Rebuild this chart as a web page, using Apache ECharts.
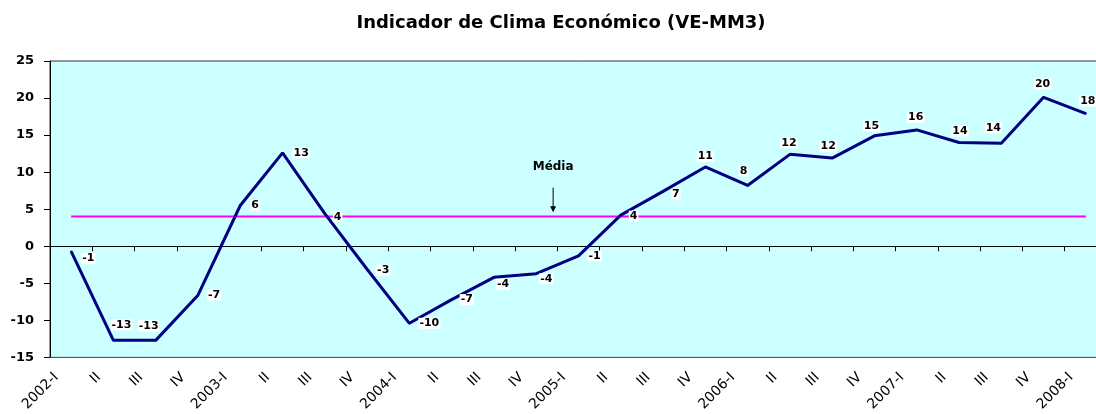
<!DOCTYPE html>
<html>
<head>
<meta charset="utf-8">
<script src="https://cdn.jsdelivr.net/npm/echarts@6/dist/echarts.min.js"></script>
<style>
  html, body { margin: 0; padding: 0; background: #fff; overflow: hidden; }
  /* a área do gráfico continua além da margem direita, como no original */
  #chart { width: 1107px; height: 414px; }
</style>
</head>
<body>
<div id="chart"></div>
<script>
// trimestres 2002-I .. 2008-I
var categories = ['2002-I', 'II', 'III', 'IV', '2003-I', 'II', 'III', 'IV', '2004-I', 'II', 'III', 'IV',
    '2005-I', 'II', 'III', 'IV', '2006-I', 'II', 'III', 'IV', '2007-I', 'II', 'III', 'IV', '2008-I'];

// indicador de clima económico (VE-MM3)
var climaValues = [-0.7, -12.7, -12.7, -6.6, 5.5, 12.6, 4.4, -3.1, -10.4, -7.2, -4.2, -3.7,
    -1.3, 4.2, 7.4, 10.7, 8.2, 12.4, 11.9, 14.9, 15.7, 14.0, 13.9, 20.1, 17.9];

// média do período
var mediaValue = 4;

// posição da etiqueta de cada ponto: [posição, dx, dy]
var labelPlacement = [
    ['right', 4, 7], ['top', 8, -4], ['top', -7, -3], ['right', 3, 0], ['right', 4, 0],
    ['right', 4, 0], ['right', 2, 3], ['right', 3, 1], ['right', 3, 0], ['right', 2, 0],
    ['right', -4, 7], ['right', -3, 5], ['right', 3, 0], ['right', 2, 1], ['right', 2, 3],
    ['top', 0, 1], ['top', -4, -3], ['top', -1, 0], ['top', -4, 0], ['top', -3, 2],
    ['top', -1, -1], ['top', 1, 0], ['top', -8, -4], ['top', -1, -2], ['top', 2, -1]
];

var font = 'DejaVu Sans';

var climaData = climaValues.map(function(v, i) {
    return {
        value: v,
        label: { position: labelPlacement[i][0] }
    };
});

var mediaData = categories.map(function() { return mediaValue; });

var myChart = echarts.init(document.getElementById('chart'));

myChart.setOption({
    animation: false,
    title: {
        text: 'Indicador de Clima Económico (VE-MM3)',
        left: 556,
        top: 9,
        textAlign: 'center',
        textStyle: { fontFamily: font, fontWeight: 'bold', fontSize: 18, color: '#000' }
    },
    grid: {
        left: 50,
        right: 0,
        top: 61,
        bottom: 55,
        show: true,
        backgroundColor: '#ccffff',
        borderColor: '#333',
        borderWidth: 1
    },
    xAxis: [{
        type: 'category',
        data: categories,
        boundaryGap: true,
        position: 'bottom',
        axisLine: { onZero: false, lineStyle: { color: '#555', width: 1 } },
        axisTick: { show: false },
        axisLabel: {
            interval: 0,
            rotate: 45,
            margin: 3,
            padding: [0, 21, 0, 0],
            fontFamily: font,
            fontSize: 14,
            color: '#000'
        },
        splitLine: { show: false }
    }, {
        type: 'category',
        data: categories,
        boundaryGap: true,
        position: 'top',
        axisLine: { onZero: true, lineStyle: { color: '#000', width: 1 } },
        axisTick: { show: true, inside: true, interval: 0, length: 5, lineStyle: { color: '#000' } },
        axisLabel: { show: false },
        splitLine: { show: false }
    }],
    yAxis: {
        type: 'value',
        min: -15,
        max: 25,
        interval: 5,
        axisLine: { show: true, lineStyle: { color: '#000', width: 1 } },
        axisTick: { show: true, length: 6, lineStyle: { color: '#000' } },
        axisLabel: {
            margin: 16,
            fontFamily: font,
            fontWeight: 'bold',
            fontSize: 13,
            color: '#000'
        },
        splitLine: { show: false }
    },
    series: [{
        name: 'Média',
        type: 'line',
        data: mediaData,
        xAxisIndex: 0,
        showSymbol: false,
        silent: true,
        lineStyle: { color: '#ff00ff', width: 2 }
    }, {
        name: 'Clima',
        type: 'line',
        data: climaData,
        xAxisIndex: 0,
        symbol: 'circle',
        symbolSize: 2,
        showSymbol: true,
        itemStyle: { color: '#000080' },
        lineStyle: { color: '#000080', width: 3 },
        label: {
            show: true,
            distance: 5,
            formatter: function(p) { return Math.round(p.value); },
            fontFamily: font,
            fontWeight: 'bold',
            fontSize: 11,
            lineHeight: 11,
            color: '#000',
            backgroundColor: '#fff',
            padding: [0, 1]
        },
        labelLayout: function(params) {
            var p = labelPlacement[params.dataIndex];
            return { dx: p[1], dy: p[2], hideOverlap: false };
        }
    }]
});

// seta "Média": entre 2004-IV e 2005-I, apontando para a linha da média
var pa = myChart.convertToPixel({ xAxisIndex: 0, yAxisIndex: 0 }, [11, mediaValue]);
var pb = myChart.convertToPixel({ xAxisIndex: 0, yAxisIndex: 0 }, [12, mediaValue]);
var ax = pa[0] + 0.4 * (pb[0] - pa[0]);
var yTop = myChart.convertToPixel({ yAxisIndex: 0 }, 7.9);
var yEnd = myChart.convertToPixel({ yAxisIndex: 0 }, mediaValue + 0.6);

myChart.setOption({
    graphic: [{
        type: 'line',
        silent: true,
        shape: { x1: ax, y1: yTop, x2: ax, y2: yEnd - 5 },
        style: { stroke: '#000', lineWidth: 1 }
    }, {
        type: 'polygon',
        silent: true,
        shape: { points: [[ax - 3, yEnd - 6], [ax + 3, yEnd - 6], [ax, yEnd]] },
        style: { fill: '#000' }
    }, {
        type: 'text',
        silent: true,
        x: ax,
        y: yTop - 21,
        style: {
            text: 'Média',
            align: 'center',
            verticalAlign: 'middle',
            font: 'bold 12px "DejaVu Sans"',
            fill: '#000'
        }
    }]
});
</script>
</body>
</html>
